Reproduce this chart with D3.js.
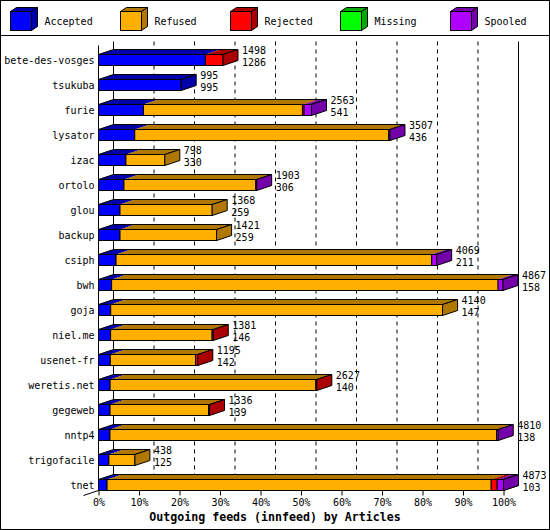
<!DOCTYPE html>
<html><head><meta charset="utf-8">
<script src="https://cdn.jsdelivr.net/npm/d3@7"></script>
<style>body{margin:0;background:#fff}svg{display:block}</style>
</head><body>
<script>
const categories = ["bete-des-vosges","tsukuba","furie","lysator","izac","ortolo","glou","backup","csiph","bwh","goja","niel.me","usenet-fr","weretis.net","gegeweb","nntp4","trigofacile","tnet"];
const totals   = [1498, 995, 2563, 3507, 798, 1903, 1368, 1421, 4069, 4867, 4140, 1381, 1195, 2627, 1336, 4810, 438, 4873];
const accepted = [1286, 995,  541,  436, 330,  306,  259,  259,  211,  158,  147,  146,  142,  140,  139,  138, 125,  103];
const refused  = [   0,   0, 1913, 3056, 468, 1587, 1109, 1162, 3798, 4650, 3993, 1221, 1025, 2475, 1185, 4652, 313, 4622];
const rejected = [ 212,   0,   20,    0,   0,    0,    0,    0,    0,    0,    0,   14,   28,   12,   12,    0,   0,   72];
const missing  = [   0,   0,    0,    0,   0,    0,    0,    0,    0,    0,    0,    0,    0,    0,    0,    0,   0,    0];
const spooled  = [   0,   0,   89,   15,   0,   10,    0,    0,   60,   59,    0,    0,    0,    0,    0,   20,   0,   76];
const seriesNames = ["Accepted","Refused","Rejected","Missing","Spooled"];
const xTicks = [0,10,20,30,40,50,60,70,80,90,100];
const title = "Outgoing feeds (innfeed) by Articles";

const series = [accepted, refused, rejected, missing, spooled];
const frontCol = ["#0000ff","#ffaf00","#ff0000","#00ff00","#af00ff"];
const darkCol  = ["#0000aa","#b07800","#aa0000","#00aa00","#7400aa"];

const W = 550, H = 530, DX = 15, DY = 5, HB = 5.5;
const FONT = "'DejaVu Sans Mono', monospace";
const svg = d3.select("body").append("svg").attr("width", W).attr("height", H)
  .style("font-family", FONT);
svg.append("rect").attr("x",0.5).attr("y",0.5).attr("width",W-1).attr("height",H-1)
  .attr("fill","#fff").attr("stroke","#000");

// legend
svg.append("line").attr("x1",0).attr("x2",W).attr("y1",35.5).attr("y2",35.5).attr("stroke","#000");
const lg = svg.append("g");
seriesNames.forEach((n,i)=>{
  const x0 = 10.5 + i*110, y0 = 11.5, w = 21, h = 19, dx = 6, dy = 4;
  const g = lg.append("g");
  g.append("rect").attr("x",x0).attr("y",y0).attr("width",w).attr("height",h)
    .attr("fill",frontCol[i]).attr("stroke","#000");
  g.append("polygon").attr("points",[[x0,y0],[x0+dx,y0-dy],[x0+w+dx,y0-dy],[x0+w,y0]].join(" "))
    .attr("fill",darkCol[i]).attr("stroke","#000");
  g.append("polygon").attr("points",[[x0+w,y0],[x0+w+dx,y0-dy],[x0+w+dx,y0+h-dy],[x0+w,y0+h]].join(" "))
    .attr("fill",darkCol[i]).attr("stroke","#000");
  g.append("text").attr("x",x0+34).attr("y",21).attr("dy","0.35em")
    .attr("font-size","10px").text(n);
});

const maxTotal = d3.max(totals);
const x = d3.scaleLinear().domain([0,100]).range([98.5,503.5]);
const y = d3.scalePoint().domain(categories).range([60,485]);
const pct = v => v / maxTotal * 100;

const yTop = y(categories[0]) - HB - 13, yBot = y(categories[categories.length-1]) + HB;

// back wall grid
const grid = svg.append("g");
xTicks.forEach(t=>{
  grid.append("line").attr("x1",x(t)+DX).attr("x2",x(t)+DX)
    .attr("y1",yTop).attr("y2",yBot-DY).attr("stroke","#000")
    .attr("stroke-dasharray",(t===0||t===100)?null:"4,4");
});
// floor
grid.append("line").attr("x1",x(0)-DX).attr("y1",yBot+DY).attr("x2",x(0)+DX).attr("y2",yBot-DY).attr("stroke","#000");
grid.append("line").attr("x1",x(100)).attr("y1",yBot).attr("x2",x(100)+DX).attr("y2",yBot-DY).attr("stroke","#000");
grid.append("line").attr("x1",x(0)).attr("y1",yBot).attr("x2",x(100)).attr("y2",yBot).attr("stroke","#000");
grid.append("line").attr("x1",x(0)+DX).attr("y1",yBot-DY).attr("x2",x(100)+DX).attr("y2",yBot-DY).attr("stroke","#000");

// bars
const bars = svg.append("g");
categories.forEach((c,r)=>{
  const cy = y(c), t = cy - HB, b = cy + HB;
  const g = bars.append("g");
  let cum = 0, last = -1;
  const segs = [];
  series.forEach((s,k)=>{
    const v = s[r];
    if (v > 0) { segs.push({k, a: cum, e: cum + v}); cum += v; last = k; }
  });
  segs.forEach(sg=>{
    const x0 = x(pct(sg.a)), x1 = x(pct(sg.e));
    g.append("polygon").attr("points",[[x0,t],[x0+DX,t-DY],[x1+DX,t-DY],[x1,t]].join(" "))
      .attr("fill",darkCol[sg.k]);
  });
  const xe = x(pct(cum)), xs = x(0);
  g.append("polygon").attr("points",[[xs,t],[xs+DX,t-DY],[xe+DX,t-DY],[xe,t]].join(" "))
    .attr("fill","none").attr("stroke","#000");
  segs.forEach(sg=>{
    const x0 = x(pct(sg.a)), x1 = x(pct(sg.e));
    g.append("rect").attr("x",x0).attr("y",t).attr("width",Math.max(0,x1-x0)).attr("height",b-t)
      .attr("fill",frontCol[sg.k]).attr("stroke","#000");
  });
  g.append("polygon").attr("points",[[xe,t],[xe+DX,t-DY],[xe+DX,b-DY],[xe,b]].join(" "))
    .attr("fill",darkCol[last]).attr("stroke","#000");
  const lx = x(pct(totals[r])) + DX + 4;
  g.append("text").attr("x",lx).attr("y",cy-6).attr("font-size","10px").text(totals[r]);
  g.append("text").attr("x",lx).attr("y",cy+6).attr("font-size","10px").text(accepted[r]);
});

// front left axis line
svg.append("line").attr("x1",x(0)).attr("x2",x(0)).attr("y1",yTop+4).attr("y2",yBot).attr("stroke","#000");

// y axis labels
const ya = svg.append("g").attr("transform",`translate(${x(0)},0)`)
  .call(d3.axisLeft(y).tickSize(0).tickPadding(4));
ya.select(".domain").remove();
ya.selectAll("text").attr("font-size","10px").attr("font-family",FONT).attr("fill","#000");

// x axis
const xa = svg.append("g").attr("transform",`translate(0,${yBot})`)
  .call(d3.axisBottom(x).tickValues(xTicks).tickFormat(d=>d+"%").tickSize(5).tickPadding(3));
xa.select(".domain").remove();
xa.selectAll("line").attr("stroke","#000");
xa.selectAll("text").attr("font-size","10px").attr("font-family",FONT).attr("fill","#000");

svg.append("text").attr("x",275).attr("y",521).attr("text-anchor","middle")
  .attr("font-size","11.6px").attr("font-weight","bold").text(title);
</script>
</body></html>
